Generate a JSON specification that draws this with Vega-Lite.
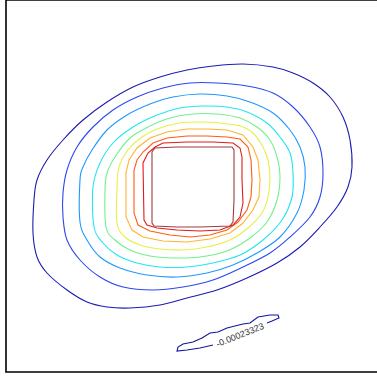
{
  "$schema": "https://vega.github.io/schema/vega-lite/v6.json",
  "width": 374,
  "height": 372,
  "autosize": {"type": "none"},
  "padding": {"left": 6, "top": 0, "right": 0, "bottom": 5},
  "background": "white",
  "config": {"view": {"stroke": "#000", "strokeWidth": 1.6}},
  "datasets": {
    "contours": [
      {"k":1,"s":"c1","x":34,"y":200},{"k":1,"s":"c1","x":33,"y":233},{"k":1,"s":"c1","x":37,"y":257},{"k":1,"s":"c1","x":47,"y":273},{"k":1,"s":"c1","x":67,"y":290},{"k":1,"s":"c1","x":87,"y":302},{"k":1,"s":"c1","x":107,"y":307},{"k":1,"s":"c1","x":130,"y":308},{"k":1,"s":"c1","x":160,"y":305},{"k":1,"s":"c1","x":187,"y":298},{"k":1,"s":"c1","x":217,"y":290},{"k":1,"s":"c1","x":247,"y":278},{"k":1,"s":"c1","x":277,"y":263},{"k":1,"s":"c1","x":300,"y":247},{"k":1,"s":"c1","x":320,"y":227},{"k":1,"s":"c1","x":337,"y":207},{"k":1,"s":"c1","x":348,"y":187},{"k":1,"s":"c1","x":352,"y":167},{"k":1,"s":"c1","x":350,"y":140},{"k":1,"s":"c1","x":343,"y":117},{"k":1,"s":"c1","x":330,"y":97},{"k":1,"s":"c1","x":313,"y":83},{"k":1,"s":"c1","x":293,"y":73},{"k":1,"s":"c1","x":273,"y":67},{"k":1,"s":"c1","x":243,"y":64},{"k":1,"s":"c1","x":213,"y":66},{"k":1,"s":"c1","x":187,"y":70},{"k":1,"s":"c1","x":160,"y":77},{"k":1,"s":"c1","x":133,"y":87},{"k":1,"s":"c1","x":107,"y":102},{"k":1,"s":"c1","x":83,"y":120},{"k":1,"s":"c1","x":63,"y":140},{"k":1,"s":"c1","x":47,"y":160},{"k":1,"s":"c1","x":37,"y":180},
      {"k":2,"s":"c2","x":63,"y":193},{"k":2,"s":"c2","x":63,"y":217},{"k":2,"s":"c2","x":67,"y":240},{"k":2,"s":"c2","x":80,"y":260},{"k":2,"s":"c2","x":100,"y":277},{"k":2,"s":"c2","x":123,"y":287},{"k":2,"s":"c2","x":153,"y":290},{"k":2,"s":"c2","x":183,"y":287},{"k":2,"s":"c2","x":213,"y":280},{"k":2,"s":"c2","x":243,"y":267},{"k":2,"s":"c2","x":270,"y":253},{"k":2,"s":"c2","x":290,"y":237},{"k":2,"s":"c2","x":310,"y":217},{"k":2,"s":"c2","x":320,"y":197},{"k":2,"s":"c2","x":323,"y":173},{"k":2,"s":"c2","x":320,"y":147},{"k":2,"s":"c2","x":310,"y":127},{"k":2,"s":"c2","x":293,"y":107},{"k":2,"s":"c2","x":273,"y":93},{"k":2,"s":"c2","x":247,"y":86},{"k":2,"s":"c2","x":217,"y":83},{"k":2,"s":"c2","x":190,"y":83},{"k":2,"s":"c2","x":163,"y":88},{"k":2,"s":"c2","x":137,"y":97},{"k":2,"s":"c2","x":113,"y":110},{"k":2,"s":"c2","x":93,"y":127},{"k":2,"s":"c2","x":77,"y":147},{"k":2,"s":"c2","x":67,"y":170},
      {"k":3,"s":"c3","x":80,"y":180},{"k":3,"s":"c3","x":80,"y":222},{"k":3,"s":"c3","x":87,"y":240},{"k":3,"s":"c3","x":100,"y":257},{"k":3,"s":"c3","x":120,"y":268},{"k":3,"s":"c3","x":147,"y":275},{"k":3,"s":"c3","x":177,"y":277},{"k":3,"s":"c3","x":207,"y":273},{"k":3,"s":"c3","x":233,"y":265},{"k":3,"s":"c3","x":257,"y":253},{"k":3,"s":"c3","x":280,"y":237},{"k":3,"s":"c3","x":297,"y":213},{"k":3,"s":"c3","x":304,"y":190},{"k":3,"s":"c3","x":305,"y":167},{"k":3,"s":"c3","x":300,"y":147},{"k":3,"s":"c3","x":290,"y":130},{"k":3,"s":"c3","x":273,"y":113},{"k":3,"s":"c3","x":250,"y":102},{"k":3,"s":"c3","x":227,"y":96},{"k":3,"s":"c3","x":200,"y":94},{"k":3,"s":"c3","x":173,"y":97},{"k":3,"s":"c3","x":150,"y":104},{"k":3,"s":"c3","x":127,"y":115},{"k":3,"s":"c3","x":107,"y":130},{"k":3,"s":"c3","x":92,"y":150},{"k":3,"s":"c3","x":83,"y":167},
      {"k":4,"s":"c4","x":93,"y":187},{"k":4,"s":"c4","x":94,"y":227},{"k":4,"s":"c4","x":103,"y":243},{"k":4,"s":"c4","x":117,"y":255},{"k":4,"s":"c4","x":137,"y":263},{"k":4,"s":"c4","x":160,"y":267},{"k":4,"s":"c4","x":187,"y":267},{"k":4,"s":"c4","x":213,"y":263},{"k":4,"s":"c4","x":240,"y":255},{"k":4,"s":"c4","x":263,"y":240},{"k":4,"s":"c4","x":282,"y":220},{"k":4,"s":"c4","x":292,"y":197},{"k":4,"s":"c4","x":293,"y":173},{"k":4,"s":"c4","x":290,"y":153},{"k":4,"s":"c4","x":280,"y":137},{"k":4,"s":"c4","x":267,"y":123},{"k":4,"s":"c4","x":247,"y":112},{"k":4,"s":"c4","x":227,"y":107},{"k":4,"s":"c4","x":203,"y":106},{"k":4,"s":"c4","x":180,"y":108},{"k":4,"s":"c4","x":157,"y":115},{"k":4,"s":"c4","x":133,"y":127},{"k":4,"s":"c4","x":113,"y":143},{"k":4,"s":"c4","x":100,"y":163},
      {"k":5,"s":"c5","x":105,"y":190},{"k":5,"s":"c5","x":106,"y":227},{"k":5,"s":"c5","x":115,"y":240},{"k":5,"s":"c5","x":130,"y":250},{"k":5,"s":"c5","x":150,"y":256},{"k":5,"s":"c5","x":173,"y":258},{"k":5,"s":"c5","x":200,"y":257},{"k":5,"s":"c5","x":227,"y":251},{"k":5,"s":"c5","x":250,"y":238},{"k":5,"s":"c5","x":267,"y":222},{"k":5,"s":"c5","x":277,"y":200},{"k":5,"s":"c5","x":280,"y":177},{"k":5,"s":"c5","x":277,"y":157},{"k":5,"s":"c5","x":270,"y":140},{"k":5,"s":"c5","x":257,"y":127},{"k":5,"s":"c5","x":240,"y":118},{"k":5,"s":"c5","x":217,"y":114},{"k":5,"s":"c5","x":193,"y":114},{"k":5,"s":"c5","x":170,"y":118},{"k":5,"s":"c5","x":148,"y":127},{"k":5,"s":"c5","x":130,"y":138},{"k":5,"s":"c5","x":115,"y":157},{"k":5,"s":"c5","x":107,"y":173},
      {"k":6,"s":"c6","x":117,"y":187},{"k":6,"s":"c6","x":117,"y":223},{"k":6,"s":"c6","x":125,"y":237},{"k":6,"s":"c6","x":140,"y":245},{"k":6,"s":"c6","x":160,"y":249},{"k":6,"s":"c6","x":183,"y":250},{"k":6,"s":"c6","x":207,"y":247},{"k":6,"s":"c6","x":230,"y":240},{"k":6,"s":"c6","x":248,"y":228},{"k":6,"s":"c6","x":262,"y":213},{"k":6,"s":"c6","x":268,"y":197},{"k":6,"s":"c6","x":270,"y":177},{"k":6,"s":"c6","x":268,"y":160},{"k":6,"s":"c6","x":263,"y":147},{"k":6,"s":"c6","x":253,"y":133},{"k":6,"s":"c6","x":240,"y":126},{"k":6,"s":"c6","x":220,"y":123},{"k":6,"s":"c6","x":200,"y":122},{"k":6,"s":"c6","x":180,"y":123},{"k":6,"s":"c6","x":160,"y":128},{"k":6,"s":"c6","x":142,"y":137},{"k":6,"s":"c6","x":128,"y":150},{"k":6,"s":"c6","x":119,"y":167},
      {"k":7,"s":"c7","x":126,"y":173},{"k":7,"s":"c7","x":126,"y":217},{"k":7,"s":"c7","x":132,"y":230},{"k":7,"s":"c7","x":143,"y":237},{"k":7,"s":"c7","x":163,"y":241},{"k":7,"s":"c7","x":187,"y":242},{"k":7,"s":"c7","x":210,"y":239},{"k":7,"s":"c7","x":230,"y":233},{"k":7,"s":"c7","x":243,"y":223},{"k":7,"s":"c7","x":253,"y":210},{"k":7,"s":"c7","x":259,"y":197},{"k":7,"s":"c7","x":260,"y":180},{"k":7,"s":"c7","x":258,"y":160},{"k":7,"s":"c7","x":253,"y":147},{"k":7,"s":"c7","x":243,"y":135},{"k":7,"s":"c7","x":227,"y":130},{"k":7,"s":"c7","x":207,"y":129},{"k":7,"s":"c7","x":187,"y":129},{"k":7,"s":"c7","x":167,"y":132},{"k":7,"s":"c7","x":150,"y":138},{"k":7,"s":"c7","x":137,"y":148},{"k":7,"s":"c7","x":129,"y":160},
      {"k":8,"s":"c8","x":134,"y":170},{"k":8,"s":"c8","x":134,"y":213},{"k":8,"s":"c8","x":138,"y":225},{"k":8,"s":"c8","x":150,"y":231},{"k":8,"s":"c8","x":170,"y":235},{"k":8,"s":"c8","x":190,"y":237},{"k":8,"s":"c8","x":210,"y":235},{"k":8,"s":"c8","x":227,"y":230},{"k":8,"s":"c8","x":238,"y":222},{"k":8,"s":"c8","x":247,"y":210},{"k":8,"s":"c8","x":251,"y":197},{"k":8,"s":"c8","x":252,"y":180},{"k":8,"s":"c8","x":251,"y":160},{"k":8,"s":"c8","x":248,"y":147},{"k":8,"s":"c8","x":240,"y":139},{"k":8,"s":"c8","x":227,"y":137},{"k":8,"s":"c8","x":207,"y":136},{"k":8,"s":"c8","x":187,"y":136},{"k":8,"s":"c8","x":167,"y":138},{"k":8,"s":"c8","x":153,"y":143},{"k":8,"s":"c8","x":143,"y":152},{"k":8,"s":"c8","x":137,"y":160},
      {"k":9,"s":"c9","x":143,"y":163},{"k":9,"s":"c9","x":144,"y":220},{"k":9,"s":"c9","x":147,"y":225},{"k":9,"s":"c9","x":157,"y":228},{"k":9,"s":"c9","x":177,"y":230},{"k":9,"s":"c9","x":200,"y":231},{"k":9,"s":"c9","x":220,"y":230},{"k":9,"s":"c9","x":233,"y":225},{"k":9,"s":"c9","x":240,"y":217},{"k":9,"s":"c9","x":243,"y":203},{"k":9,"s":"c9","x":242,"y":180},{"k":9,"s":"c9","x":242,"y":157},{"k":9,"s":"c9","x":240,"y":148},{"k":9,"s":"c9","x":233,"y":143},{"k":9,"s":"c9","x":213,"y":142},{"k":9,"s":"c9","x":187,"y":142},{"k":9,"s":"c9","x":163,"y":143},{"k":9,"s":"c9","x":155,"y":147},{"k":9,"s":"c9","x":148,"y":153},
      {"k":10,"s":"c10","x":152,"y":152},{"k":10,"s":"c10","x":152,"y":223},{"k":10,"s":"c10","x":154,"y":226},{"k":10,"s":"c10","x":177,"y":227},{"k":10,"s":"c10","x":200,"y":227},{"k":10,"s":"c10","x":230,"y":226},{"k":10,"s":"c10","x":233,"y":222},{"k":10,"s":"c10","x":234,"y":200},{"k":10,"s":"c10","x":234,"y":150},{"k":10,"s":"c10","x":232,"y":147},{"k":10,"s":"c10","x":207,"y":147},{"k":10,"s":"c10","x":177,"y":147},{"k":10,"s":"c10","x":155,"y":148}
    ],
    "lowContour": [
      {"k":0,"s":"low","x":213,"y":345},{"k":0,"s":"low","x":200,"y":348},{"k":0,"s":"low","x":187,"y":350},{"k":0,"s":"low","x":177,"y":351},{"k":0,"s":"low","x":178,"y":347},{"k":0,"s":"low","x":183,"y":344},{"k":0,"s":"low","x":193,"y":342},{"k":0,"s":"low","x":202,"y":338},{"k":0,"s":"low","x":210,"y":333},{"k":0,"s":"low","x":218,"y":332},{"k":0,"s":"low","x":227,"y":328},{"k":0,"s":"low","x":235,"y":326},{"k":0,"s":"low","x":243,"y":324},{"k":0,"s":"low","x":250,"y":323},{"k":0,"s":"low","x":258,"y":317},{"k":0,"s":"low","x":270,"y":315},{"k":0,"s":"low","x":278,"y":315},{"k":0,"s":"low","x":279,"y":318},{"k":0,"s":"low","x":272,"y":321},{"k":0,"s":"low","x":267,"y":323}
    ],
    "labels": [
      {"x": 240, "y": 335, "label": "-0.00023323"}
    ]
  },
  "resolve": {"scale": {"color": "shared"}},
  "layer": [
    {
      "data": {"name": "contours"},
      "transform": [{"filter": "datum.k <= 6"}],
      "mark": {"type": "line", "strokeWidth": 1.1, "interpolate": "cardinal-closed"},
      "encoding": {
        "x": {"field": "x", "type": "quantitative", "scale": {"domain": [6, 380], "nice": false, "zero": false}, "axis": null},
        "y": {"field": "y", "type": "quantitative", "scale": {"domain": [0, 372], "nice": false, "zero": false, "reverse": true}, "axis": null},
        "detail": {"field": "s"},
        "color": {
          "field": "k",
          "type": "ordinal",
          "scale": {
            "domain": [0, 1, 2, 3, 4, 5, 6, 7, 8, 9, 10],
            "range": ["#15159a", "#1c1cb0", "#2a48ee", "#1e98ff", "#22e6f2", "#72f08e", "#e6f046", "#ffb430", "#ff5c14", "#e01a1a", "#a03c3c"]
          },
          "legend": null
        },
        "order": {"value": null}
      }
    },
    {
      "data": {"name": "contours"},
      "transform": [{"filter": "datum.k > 6"}],
      "mark": {"type": "line", "strokeWidth": 1.1, "interpolate": "linear-closed"},
      "encoding": {
        "x": {"field": "x", "type": "quantitative", "scale": {"domain": [6, 380], "nice": false, "zero": false}, "axis": null},
        "y": {"field": "y", "type": "quantitative", "scale": {"domain": [0, 372], "nice": false, "zero": false, "reverse": true}, "axis": null},
        "detail": {"field": "s"},
        "color": {"field": "k", "type": "ordinal", "legend": null},
        "order": {"value": null}
      }
    },
    {
      "data": {"name": "lowContour"},
      "mark": {"type": "line", "strokeWidth": 1.1},
      "encoding": {
        "x": {"field": "x", "type": "quantitative", "scale": {"domain": [6, 380], "nice": false, "zero": false}, "axis": null},
        "y": {"field": "y", "type": "quantitative", "scale": {"domain": [0, 372], "nice": false, "zero": false, "reverse": true}, "axis": null},
        "detail": {"field": "s"},
        "color": {"field": "k", "type": "ordinal", "legend": null},
        "order": {"value": null}
      }
    },
    {
      "data": {"name": "labels"},
      "mark": {"type": "text", "angle": 338, "fontSize": 9, "font": "Liberation Sans", "fill": "#333333", "align": "center", "baseline": "middle"},
      "encoding": {
        "x": {"field": "x", "type": "quantitative", "scale": {"domain": [6, 380], "nice": false, "zero": false}, "axis": null},
        "y": {"field": "y", "type": "quantitative", "scale": {"domain": [0, 372], "nice": false, "zero": false, "reverse": true}, "axis": null},
        "text": {"field": "label"}
      }
    }
  ]
}
